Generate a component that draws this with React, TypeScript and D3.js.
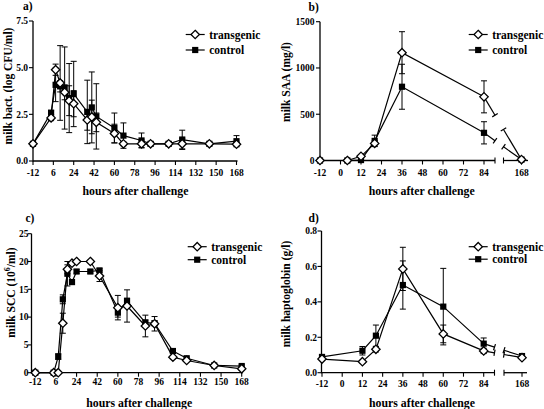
import React from "react";
import * as d3 from "d3";

const FONT = "'Liberation Serif', 'Times New Roman', serif";

// ---------- Panel a: milk bacteria ----------
const hoursA = [-12, 4, 8, 12, 16, 20, 24, 36, 40, 44, 60, 68, 84, 92, 108, 120, 144, 168];
const transA = [0.92, 2.31, 4.89, 4.18, 3.68, 3.23, 3.07, 2.2, 2.36, 2.07, 1.47, 0.92, 0.92, 0.92, 0.92, 0.92, 0.92, 0.9];
const transAErr = [0.05, 0.15, 0.3, 2.0, 0.4, 0.8, 0.7, 0.55, 0.9, 0.5, 0.5, 0.1, 0.2, 0.1, 0.1, 0.3, 0.05, 0.1];
const ctrlA = [0.92, 2.59, 4.08, 4.0, 3.91, 3.37, 3.59, 2.63, 2.87, 2.39, 1.77, 1.36, 1.1, 0.92, 0.92, 1.15, 0.92, 1.06];
const ctrlAErr = [0.05, 0.1, 0.9, 0.3, 2.2, 1.85, 1.75, 1.7, 1.9, 1.75, 0.8, 0.68, 0.4, 0.05, 0.05, 0.5, 0.05, 0.3];
const xTicksA = [-12, 6, 24, 42, 60, 78, 96, 114, 132, 150, 168];
const yTicksA = [0, 2.5, 5, 7.5];

// ---------- Panel b: milk SAA ----------
const hoursB = [-12, 4, 12, 20, 36, 84, 168];
const transB = [0, 0, 45, 185, 1165, 688, 10];
const transBErr = [0, 0, 10, 30, 227, 173, 0];
const ctrlB = [0, 0, 5, 212, 797, 299, 10];
const ctrlBErr = [0, 0, 5, 62, 243, 120, 0];
const xTicksB = [-12, 0, 12, 24, 36, 48, 60, 72, 84, 168];
const yTicksB = [0, 500, 1000, 1500];

// ---------- Panel c: milk SCC ----------
const hoursC = [-12, 4, 8, 12, 16, 20, 24, 36, 44, 60, 68, 84, 92, 108, 120, 144, 168];
const transC = [0, 0, 0, 8.9, 18.6, 19.7, 20.0, 20.0, 17.4, 11.7, 12.0, 8.4, 8.8, 2.8, 2.2, 1.3, 0.7];
const transCErr = [0, 0, 0, 1.8, 0.8, 0.3, 0.2, 0.2, 1.0, 2.2, 2.9, 1.95, 1.3, 0.3, 0.2, 0.1, 0.2];
const ctrlC = [0, 0, 2.9, 13.2, 17.8, 16.3, 18.2, 18.2, 18.4, 10.8, 12.9, 9.0, 8.9, 3.9, 2.6, 1.3, 1.2];
const ctrlCErr = [0, 0, 0.5, 0.8, 2.2, 0.4, 0.3, 0.3, 0.3, 0.8, 0.5, 0.5, 0.4, 0.3, 0.2, 0.1, 0.2];
const xTicksC = [-12, 6, 24, 42, 60, 78, 96, 114, 132, 150, 168];
const yTicksC = [0, 5, 10, 15, 20, 25];

// ---------- Panel d: milk haptoglobin ----------
const hoursD = [-12, 12, 20, 36, 60, 84, 168];
const transD = [0.077, 0.062, 0.132, 0.586, 0.219, 0.123, 0.085];
const transDErr = [0.008, 0.008, 0.015, 0.122, 0.05, 0.015, 0.008];
const ctrlD = [0.089, 0.124, 0.209, 0.495, 0.373, 0.164, 0.094];
const ctrlDErr = [0.008, 0.024, 0.06, 0.136, 0.216, 0.032, 0.008];
const xTicksD = [-12, 0, 12, 24, 36, 48, 60, 72, 84, 168];
const yTicksD = [0, 0.2, 0.4, 0.6, 0.8];

const legendLabels = ["transgenic", "control"];
const xTitle = "hours after challenge";

type Series = { hours: number[]; vals: number[]; errs: number[]; open: boolean };

function Marker({ x, y, open }: { x: number; y: number; open: boolean }) {
  if (open) {
    const r = 4.2;
    return (
      <path
        d={`M${x},${y - r}L${x + r},${y}L${x},${y + r}L${x - r},${y}Z`}
        fill="white"
        stroke="black"
        strokeWidth={1.3}
      />
    );
  }
  const s = 3.1;
  return <rect x={x - s} y={y - s} width={2 * s} height={2 * s} fill="black" />;
}

function Panel(props: any) {
  const {
    x, y, yAxisX, xAxisEnd, brk, xTicks, yTicks, yFmt, series, letter, letterPos,
    yTitle, yTitlePos, xTitlePos, legendPos, legendGap, xLabelY, yLabelDx,
  } = props;
  const y0 = y(0);
  const yTop = y(yTicks[yTicks.length - 1]);
  const line = d3.line<[number, number]>().x((d) => d[0]).y((d) => d[1]);
  const sw = 1.2;

  const els: any[] = [];
  // axes
  if (brk) {
    els.push(<line key="xa1" x1={yAxisX} x2={brk.l} y1={y0} y2={y0} stroke="black" strokeWidth={1.3} />);
    els.push(<line key="xa1e" x1={brk.l} x2={brk.l} y1={y0 - 3} y2={y0 + 3} stroke="black" strokeWidth={1.1} />);
    els.push(<line key="xa2" x1={brk.r} x2={brk.end} y1={y0} y2={y0} stroke="black" strokeWidth={1.3} />);
    els.push(<line key="xa2e" x1={brk.r} x2={brk.r} y1={y0 - 3} y2={y0 + 3} stroke="black" strokeWidth={1.1} />);
  } else {
    els.push(<line key="xa" x1={yAxisX} x2={xAxisEnd} y1={y0} y2={y0} stroke="black" strokeWidth={1.3} />);
  }
  els.push(<line key="ya" x1={yAxisX} x2={yAxisX} y1={y0 + 0.6} y2={yTop} stroke="black" strokeWidth={1.3} />);
  xTicks.forEach((t: number) => {
    const px = x(t);
    els.push(<line key={"xt" + t} x1={px} x2={px} y1={y0} y2={y0 + 4} stroke="black" strokeWidth={1.1} />);
    els.push(
      <text key={"xl" + t} x={px} y={xLabelY} textAnchor="middle" fontSize={9.5} fontWeight="bold" fontFamily={FONT}>
        {String(t)}
      </text>
    );
  });
  yTicks.forEach((t: number) => {
    const py = y(t);
    els.push(<line key={"yt" + t} x1={yAxisX - 4} x2={yAxisX} y1={py} y2={py} stroke="black" strokeWidth={1.1} />);
    els.push(
      <text key={"yl" + t} x={yAxisX - yLabelDx} y={py + 3.3} textAnchor="end" fontSize={9.5} fontWeight="bold" fontFamily={FONT}>
        {yFmt(t)}
      </text>
    );
  });

  // series
  series.forEach((s: Series, si: number) => {
    const pts: [number, number][] = s.hours.map((h, i) => [x(h), y(s.vals[i])]);
    let mainPts = pts;
    if (brk) {
      mainPts = pts.filter((_, i) => s.hours[i] <= 84);
      const p1 = pts[pts.length - 2];
      const p2 = pts[pts.length - 1];
      const t1 = (brk.l - p1[0]) / (p2[0] - p1[0]);
      const t2 = (brk.r - p1[0]) / (p2[0] - p1[0]);
      const a: [number, number] = [brk.l, p1[1] + t1 * (p2[1] - p1[1])];
      const b: [number, number] = [brk.r, p1[1] + t2 * (p2[1] - p1[1])];
      const dx = p2[0] - p1[0];
      const dy = p2[1] - p1[1];
      const len = Math.hypot(dx, dy);
      const nx = (-dy / len) * 3.2;
      const ny = (dx / len) * 3.2;
      els.push(<path key={"bk1" + si} d={line([p1, a]) as string} fill="none" stroke="black" strokeWidth={sw} />);
      els.push(<path key={"bk2" + si} d={line([b, p2]) as string} fill="none" stroke="black" strokeWidth={sw} />);
      els.push(<line key={"bc1" + si} x1={a[0] - nx} y1={a[1] - ny} x2={a[0] + nx} y2={a[1] + ny} stroke="black" strokeWidth={sw} />);
      els.push(<line key={"bc2" + si} x1={b[0] - nx} y1={b[1] - ny} x2={b[0] + nx} y2={b[1] + ny} stroke="black" strokeWidth={sw} />);
    }
    els.push(<path key={"ln" + si} d={line(mainPts) as string} fill="none" stroke="black" strokeWidth={sw} />);
  });
  series.forEach((s: Series, si: number) => {
    s.hours.forEach((h, i) => {
      const e = s.errs[i];
      if (!e) return;
      const px = x(h);
      const ya = y(s.vals[i] + e);
      const yb = y(s.vals[i] - e);
      if (Math.abs(yb - ya) < 2) return;
      els.push(<line key={`eb${si}-${i}`} x1={px} x2={px} y1={ya} y2={yb} stroke="black" strokeWidth={1} />);
      els.push(<line key={`ec1${si}-${i}`} x1={px - 3} x2={px + 3} y1={ya} y2={ya} stroke="black" strokeWidth={1} />);
      els.push(<line key={`ec2${si}-${i}`} x1={px - 3} x2={px + 3} y1={yb} y2={yb} stroke="black" strokeWidth={1} />);
    });
  });
  series.forEach((s: Series, si: number) => {
    s.hours.forEach((h, i) => {
      els.push(<Marker key={`mk${si}-${i}`} x={x(h)} y={y(s.vals[i])} open={s.open} />);
    });
  });

  // legend
  [true, false].forEach((open, i) => {
    const ly = legendPos[1] + i * legendGap;
    const lx = legendPos[0];
    els.push(<line key={"lgl" + i} x1={lx} x2={lx + 19} y1={ly} y2={ly} stroke="black" strokeWidth={sw} />);
    els.push(<Marker key={"lgm" + i} x={lx + 9.5} y={ly} open={open} />);
    els.push(
      <text key={"lgt" + i} x={lx + 23.5} y={ly + 4} fontSize={11.5} fontWeight="bold" fontFamily={FONT}>
        {legendLabels[i]}
      </text>
    );
  });

  // titles
  els.push(
    <text key="letter" x={letterPos[0]} y={letterPos[1]} fontSize={11.5} fontWeight="bold" fontFamily={FONT}>
      {letter}
    </text>
  );
  els.push(
    <text key="xtitle" x={xTitlePos[0]} y={xTitlePos[1]} textAnchor="middle" fontSize={11.8} fontWeight="bold" fontFamily={FONT}>
      {xTitle}
    </text>
  );
  els.push(
    <text
      key="ytitle"
      transform={`translate(${yTitlePos[0]},${yTitlePos[1]}) rotate(-90)`}
      textAnchor="middle"
      dominantBaseline="central"
      fontSize={11.5}
      fontWeight="bold"
      fontFamily={FONT}
    >
      {yTitle}
    </text>
  );
  return <g>{els}</g>;
}

export default function App() {
  const xA = d3.scaleLinear().domain([-12, 168]).range([33, 236.5]);
  const yA = d3.scaleLinear().domain([0, 7.5]).range([161, 21]);
  const xB = d3.scaleLinear().domain([-12, 84, 168]).range([320, 484, 521.5]);
  const yB = d3.scaleLinear().domain([0, 1500]).range([160.5, 21.7]);
  const xC = d3.scaleLinear().domain([-12, 168]).range([35.3, 241.7]);
  const yC = d3.scaleLinear().domain([0, 25]).range([372.7, 233.7]);
  const xD = d3.scaleLinear().domain([-12, 84, 168]).range([322, 483.7, 522]);
  const yD = d3.scaleLinear().domain([0, 0.8]).range([372.7, 231]);

  const f1 = d3.format(".1f");
  const fInt = (v: number) => String(v);

  return (
    <svg width={544} height={409} style={{ position: "absolute", left: 0, top: 0, background: "white" }}>
      <rect x={0} y={0} width={544} height={409} fill="white" />
      <Panel
        x={xA} y={yA} yAxisX={33} xAxisEnd={237.5} xTicks={xTicksA} yTicks={yTicksA} yFmt={f1}
        series={[
          { hours: hoursA, vals: ctrlA, errs: ctrlAErr, open: false },
          { hours: hoursA, vals: transA, errs: transAErr, open: true },
        ]}
        letter="a)" letterPos={[23, 9.5]}
        yTitle="milk bact. (log CFU/ml)" yTitlePos={[7.5, 86]}
        xTitlePos={[135.5, 194.5]} legendPos={[185.7, 34.5]} legendGap={15.5} xLabelY={176} yLabelDx={5}
      />
      <Panel
        x={xB} y={yB} yAxisX={320} brk={{ l: 495, r: 503.5, end: 528 }} xTicks={xTicksB} yTicks={yTicksB} yFmt={fInt}
        series={[
          { hours: hoursB, vals: ctrlB, errs: ctrlBErr, open: false },
          { hours: hoursB, vals: transB, errs: transBErr, open: true },
        ]}
        letter="b)" letterPos={[308.5, 10.5]}
        yTitle="milk SAA (mg/l)" yTitlePos={[286, 82]}
        xTitlePos={[421.7, 194.5]} legendPos={[468.7, 34.5]} legendGap={15.5} xLabelY={176} yLabelDx={5.5}
      />
      <Panel
        x={xC} y={yC} yAxisX={31.5} xAxisEnd={243} xTicks={xTicksC} yTicks={yTicksC} yFmt={fInt}
        series={[
          { hours: hoursC, vals: ctrlC, errs: ctrlCErr, open: false },
          { hours: hoursC, vals: transC, errs: transCErr, open: true },
        ]}
        letter="c)" letterPos={[25.5, 222]}
        yTitle={<>milk SCC (10<tspan dy={-4} fontSize={8}>6</tspan><tspan dy={4}>/ml)</tspan></>}
        yTitlePos={[11, 292.5]}
        xTitlePos={[139.3, 407]} legendPos={[187.7, 246.7]} legendGap={13} xLabelY={385} yLabelDx={3}
      />
      <Panel
        x={xD} y={yD} yAxisX={321.5} brk={{ l: 494.5, r: 504, end: 527 }} xTicks={xTicksD} yTicks={yTicksD} yFmt={f1}
        series={[
          { hours: hoursD, vals: ctrlD, errs: ctrlDErr, open: false },
          { hours: hoursD, vals: transD, errs: transDErr, open: true },
        ]}
        letter="d)" letterPos={[308.5, 222]}
        yTitle="milk haptoglobin (g/l)" yTitlePos={[286, 294]}
        xTitlePos={[422, 407]} legendPos={[468.7, 246.7]} legendGap={12.5} xLabelY={386.5} yLabelDx={4.5}
      />
    </svg>
  );
}
